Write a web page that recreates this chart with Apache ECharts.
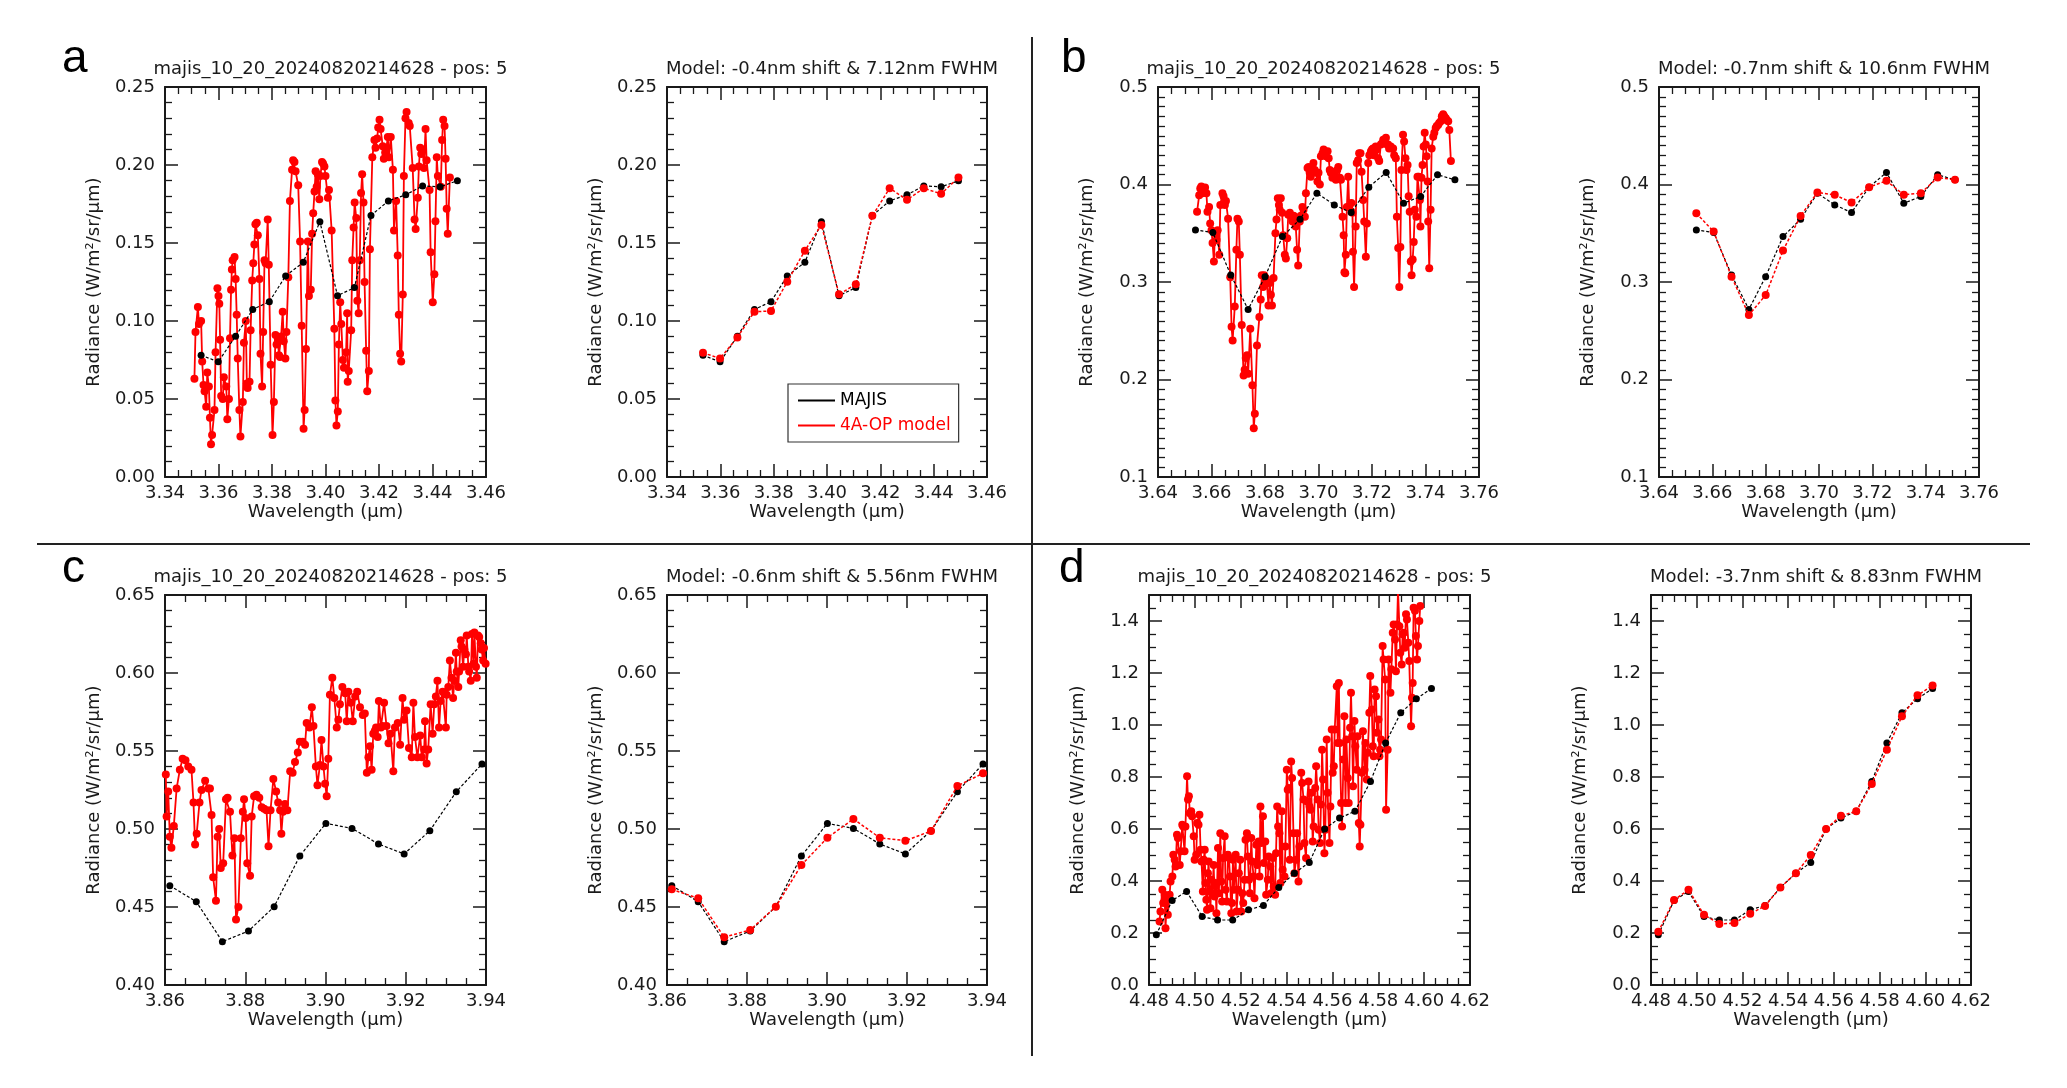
<!DOCTYPE html>
<html lang="en">
<head>
<meta charset="UTF-8">
<title>MAJIS vs 4A-OP model</title>
<script src="https://cdn.jsdelivr.net/npm/echarts@6.0.0/dist/echarts.min.js"></script>
<style>
    html, body { margin: 0; padding: 0; background: #fff; }
    #wrap { position: relative; width: 2067px; height: 1088px; }
    #axes, #marks { position: absolute; left: 0; top: 0; width: 2067px; height: 1088px; }
</style>
</head>
<body>
<div id="wrap">
    <div id="axes"></div>
    <div id="marks"></div>
</div>
<script>
// ---- MAJIS channels and 4A-OP model convolved to them ----
var wlA = [3.3535, 3.3599, 3.3664, 3.3728, 3.3790, 3.3851, 3.3917, 3.3979, 3.4045, 3.4108, 3.4170, 3.4235, 3.4300, 3.4363, 3.4428, 3.4493];
var majisA = [0.0781, 0.0738, 0.0903, 0.1074, 0.1124, 0.1289, 0.1376, 0.1637, 0.1162, 0.1214, 0.1676, 0.1770, 0.1809, 0.1866, 0.1860, 0.1899];
var modelA = [0.0796, 0.0760, 0.0895, 0.1060, 0.1064, 0.1252, 0.1451, 0.1616, 0.1171, 0.1235, 0.1674, 0.1851, 0.1777, 0.1851, 0.1815, 0.1920];

var wlB = [3.6540, 3.6605, 3.6672, 3.6737, 3.6800, 3.6865, 3.6931, 3.6994, 3.7059, 3.7122, 3.7188, 3.7253, 3.7318, 3.7382, 3.7445, 3.7510];
var majisB = [0.3534, 0.3507, 0.3072, 0.2719, 0.3055, 0.3466, 0.3644, 0.3911, 0.3791, 0.3712, 0.3973, 0.4123, 0.3808, 0.3877, 0.4100, 0.4048];
var modelB = [0.3705, 0.3517, 0.3055, 0.2661, 0.2866, 0.3322, 0.3678, 0.3918, 0.3894, 0.3815, 0.3973, 0.4038, 0.3894, 0.3911, 0.4072, 0.4048];

var wlC = [3.8612, 3.8678, 3.8743, 3.8808, 3.8872, 3.8936, 3.9001, 3.9066, 3.9132, 3.9196, 3.9260, 3.9326, 3.9390];
var majisC = [0.4637, 0.4534, 0.4278, 0.4346, 0.4502, 0.4827, 0.5036, 0.5004, 0.4904, 0.4840, 0.4989, 0.5239, 0.5417];
var modelC = [0.4613, 0.4556, 0.4306, 0.4353, 0.4502, 0.4769, 0.4944, 0.5064, 0.4944, 0.4925, 0.4987, 0.5276, 0.5357];

var wlD = [4.4832, 4.4901, 4.4964, 4.5032, 4.5099, 4.5165, 4.5234, 4.5299, 4.5366, 4.5434, 4.5499, 4.5566, 4.5631, 4.5698, 4.5766, 4.5832, 4.5898, 4.5966, 4.6032];
var majisD = [0.193, 0.325, 0.360, 0.263, 0.250, 0.250, 0.289, 0.306, 0.375, 0.430, 0.471, 0.600, 0.642, 0.668, 0.783, 0.931, 1.047, 1.101, 1.140];
var modelD = [0.205, 0.327, 0.366, 0.270, 0.235, 0.238, 0.274, 0.304, 0.375, 0.430, 0.500, 0.600, 0.651, 0.668, 0.773, 0.905, 1.034, 1.114, 1.152];

// ---- 4A-OP high resolution spectra [wavelength, radiance] ----
var specA = [[3.3510,0.063],[3.3514,0.093],[3.3523,0.109],[3.3527,0.098],[3.3535,0.100],[3.3539,0.074],[3.3544,0.059],[3.3548,0.055],[3.3554,0.045],[3.3558,0.067],[3.3564,0.058],[3.3568,0.038],[3.3572,0.021],[3.3576,0.027],[3.3585,0.043],[3.3589,0.080],[3.3596,0.121],[3.3600,0.116],[3.3603,0.111],[3.3606,0.088],[3.3610,0.052],[3.3616,0.050],[3.3620,0.064],[3.3629,0.058],[3.3633,0.037],[3.3639,0.050],[3.3643,0.089],[3.3647,0.120],[3.3650,0.133],[3.3653,0.139],[3.3660,0.141],[3.3664,0.127],[3.3668,0.104],[3.3672,0.076],[3.3678,0.043],[3.3682,0.026],[3.3691,0.048],[3.3695,0.086],[3.3702,0.100],[3.3706,0.060],[3.3709,0.057],[3.3716,0.061],[3.3720,0.094],[3.3726,0.126],[3.3730,0.137],[3.3734,0.149],[3.3738,0.162],[3.3743,0.163],[3.3747,0.155],[3.3753,0.127],[3.3757,0.079],[3.3763,0.058],[3.3767,0.093],[3.3772,0.139],[3.3776,0.137],[3.3784,0.165],[3.3788,0.136],[3.3795,0.072],[3.3802,0.027],[3.3807,0.048],[3.3813,0.091],[3.3817,0.085],[3.3822,0.088],[3.3826,0.078],[3.3830,0.077],[3.3834,0.090],[3.3840,0.106],[3.3844,0.087],[3.3850,0.076],[3.3854,0.093],[3.3861,0.128],[3.3867,0.177],[3.3875,0.197],[3.3879,0.203],[3.3884,0.202],[3.3888,0.196],[3.3898,0.187],[3.3905,0.151],[3.3911,0.097],[3.3918,0.031],[3.3922,0.043],[3.3927,0.082],[3.3934,0.151],[3.3938,0.116],[3.3945,0.120],[3.3950,0.156],[3.3954,0.169],[3.3959,0.183],[3.3963,0.196],[3.3967,0.186],[3.3971,0.194],[3.3977,0.178],[3.3981,0.193],[3.3987,0.202],[3.3991,0.201],[3.3996,0.199],[3.4000,0.193],[3.4009,0.179],[3.4013,0.184],[3.4023,0.158],[3.4033,0.095],[3.4037,0.049],[3.4041,0.033],[3.4046,0.042],[3.4050,0.085],[3.4055,0.112],[3.4059,0.098],[3.4065,0.075],[3.4069,0.070],[3.4077,0.080],[3.4081,0.105],[3.4083,0.061],[3.4087,0.068],[3.4096,0.094],[3.4100,0.139],[3.4105,0.160],[3.4109,0.176],[3.4115,0.166],[3.4119,0.113],[3.4124,0.105],[3.4128,0.139],[3.4133,0.182],[3.4137,0.194],[3.4142,0.176],[3.4146,0.125],[3.4152,0.081],[3.4156,0.055],[3.4162,0.068],[3.4166,0.146],[3.4175,0.205],[3.4183,0.216],[3.4187,0.211],[3.4193,0.217],[3.4197,0.224],[3.4202,0.229],[3.4206,0.223],[3.4214,0.212],[3.4218,0.204],[3.4223,0.208],[3.4227,0.210],[3.4233,0.218],[3.4237,0.205],[3.4244,0.218],[3.4252,0.197],[3.4256,0.158],[3.4264,0.177],[3.4270,0.142],[3.4274,0.104],[3.4279,0.079],[3.4283,0.074],[3.4289,0.117],[3.4293,0.193],[3.4299,0.230],[3.4303,0.234],[3.4311,0.227],[3.4315,0.225],[3.4326,0.198],[3.4333,0.165],[3.4337,0.159],[3.4345,0.179],[3.4349,0.199],[3.4354,0.211],[3.4358,0.207],[3.4364,0.210],[3.4368,0.198],[3.4374,0.223],[3.4378,0.203],[3.4389,0.184],[3.4393,0.144],[3.4401,0.112],[3.4407,0.130],[3.4411,0.164],[3.4416,0.205],[3.4420,0.193],[3.4431,0.186],[3.4436,0.216],[3.4440,0.229],[3.4445,0.225],[3.4449,0.204],[3.4453,0.172],[3.4457,0.156],[3.4465,0.192]];

var specB = [[3.6546,0.372],[3.6554,0.389],[3.6558,0.396],[3.6562,0.398],[3.6566,0.391],[3.6572,0.395],[3.6576,0.397],[3.6581,0.391],[3.6585,0.372],[3.6591,0.377],[3.6595,0.360],[3.6600,0.353],[3.6604,0.340],[3.6609,0.321],[3.6613,0.350],[3.6619,0.343],[3.6623,0.353],[3.6629,0.328],[3.6633,0.379],[3.6641,0.391],[3.6645,0.388],[3.6650,0.379],[3.6654,0.383],[3.6662,0.365],[3.6670,0.305],[3.6675,0.254],[3.6679,0.240],[3.6687,0.275],[3.6693,0.333],[3.6697,0.365],[3.6702,0.362],[3.6706,0.328],[3.6713,0.256],[3.6720,0.204],[3.6724,0.210],[3.6728,0.222],[3.6733,0.225],[3.6737,0.206],[3.6745,0.252],[3.6753,0.194],[3.6758,0.150],[3.6762,0.165],[3.6770,0.235],[3.6779,0.264],[3.6784,0.282],[3.6788,0.307],[3.6793,0.295],[3.6797,0.307],[3.6803,0.304],[3.6807,0.299],[3.6813,0.276],[3.6817,0.299],[3.6822,0.287],[3.6826,0.276],[3.6832,0.304],[3.6839,0.350],[3.6843,0.364],[3.6848,0.386],[3.6852,0.379],[3.6855,0.374],[3.6859,0.386],[3.6864,0.371],[3.6868,0.348],[3.6874,0.328],[3.6878,0.324],[3.6883,0.345],[3.6887,0.369],[3.6893,0.371],[3.6897,0.368],[3.6903,0.362],[3.6907,0.368],[3.6911,0.367],[3.6915,0.357],[3.6920,0.333],[3.6924,0.317],[3.6930,0.362],[3.6934,0.368],[3.6940,0.377],[3.6944,0.374],[3.6949,0.367],[3.6953,0.391],[3.6959,0.417],[3.6963,0.418],[3.6967,0.412],[3.6971,0.408],[3.6977,0.418],[3.6981,0.422],[3.6986,0.415],[3.6990,0.412],[3.6996,0.403],[3.7000,0.412],[3.7005,0.400],[3.7009,0.429],[3.7015,0.432],[3.7019,0.436],[3.7024,0.434],[3.7028,0.429],[3.7034,0.434],[3.7038,0.427],[3.7042,0.415],[3.7046,0.412],[3.7052,0.407],[3.7056,0.413],[3.7061,0.410],[3.7065,0.405],[3.7070,0.415],[3.7074,0.418],[3.7080,0.407],[3.7084,0.405],[3.7090,0.367],[3.7094,0.348],[3.7097,0.310],[3.7100,0.309],[3.7102,0.328],[3.7106,0.377],[3.7111,0.408],[3.7115,0.377],[3.7123,0.381],[3.7127,0.371],[3.7129,0.331],[3.7133,0.295],[3.7139,0.357],[3.7143,0.422],[3.7148,0.425],[3.7152,0.432],[3.7157,0.432],[3.7161,0.413],[3.7167,0.384],[3.7171,0.362],[3.7177,0.326],[3.7181,0.360],[3.7186,0.422],[3.7190,0.430],[3.7196,0.434],[3.7200,0.436],[3.7204,0.437],[3.7208,0.430],[3.7214,0.439],[3.7218,0.436],[3.7223,0.427],[3.7227,0.424],[3.7233,0.441],[3.7237,0.442],[3.7242,0.446],[3.7246,0.444],[3.7252,0.448],[3.7256,0.441],[3.7260,0.441],[3.7264,0.437],[3.7270,0.439],[3.7274,0.437],[3.7279,0.437],[3.7283,0.430],[3.7289,0.427],[3.7293,0.367],[3.7298,0.335],[3.7302,0.295],[3.7306,0.336],[3.7310,0.415],[3.7316,0.451],[3.7320,0.444],[3.7325,0.427],[3.7329,0.415],[3.7333,0.420],[3.7337,0.388],[3.7341,0.372],[3.7345,0.321],[3.7348,0.307],[3.7352,0.323],[3.7356,0.341],[3.7360,0.374],[3.7366,0.367],[3.7370,0.408],[3.7375,0.408],[3.7379,0.384],[3.7381,0.357],[3.7385,0.407],[3.7389,0.420],[3.7393,0.439],[3.7397,0.453],[3.7401,0.441],[3.7404,0.429],[3.7408,0.403],[3.7410,0.362],[3.7414,0.314],[3.7419,0.374],[3.7423,0.437],[3.7429,0.449],[3.7433,0.453],[3.7438,0.458],[3.7442,0.460],[3.7447,0.461],[3.7451,0.463],[3.7457,0.465],[3.7461,0.470],[3.7466,0.472],[3.7470,0.470],[3.7476,0.468],[3.7480,0.466],[3.7485,0.465],[3.7489,0.456],[3.7495,0.424]];

var specC = [[3.8602,0.535],[3.8604,0.508],[3.8608,0.524],[3.8612,0.495],[3.8616,0.488],[3.8622,0.502],[3.8629,0.526],[3.8637,0.538],[3.8644,0.545],[3.8651,0.544],[3.8658,0.540],[3.8666,0.538],[3.8671,0.517],[3.8675,0.490],[3.8679,0.497],[3.8686,0.517],[3.8691,0.525],[3.8700,0.531],[3.8708,0.526],[3.8712,0.526],[3.8716,0.509],[3.8720,0.469],[3.8727,0.454],[3.8731,0.495],[3.8735,0.500],[3.8739,0.475],[3.8745,0.478],[3.8752,0.519],[3.8756,0.520],[3.8762,0.511],[3.8768,0.483],[3.8773,0.494],[3.8777,0.442],[3.8783,0.450],[3.8789,0.494],[3.8794,0.511],[3.8797,0.519],[3.8801,0.507],[3.8805,0.478],[3.8812,0.470],[3.8816,0.508],[3.8822,0.521],[3.8828,0.522],[3.8835,0.520],[3.8841,0.514],[3.8847,0.513],[3.8853,0.512],[3.8858,0.489],[3.8863,0.512],[3.8870,0.532],[3.8877,0.524],[3.8882,0.517],[3.8887,0.512],[3.8890,0.497],[3.8894,0.511],[3.8899,0.516],[3.8905,0.512],[3.8912,0.537],[3.8918,0.536],[3.8924,0.543],[3.8931,0.549],[3.8936,0.556],[3.8943,0.556],[3.8949,0.554],[3.8953,0.568],[3.8960,0.565],[3.8966,0.578],[3.8970,0.566],[3.8976,0.540],[3.8980,0.528],[3.8986,0.541],[3.8990,0.557],[3.8995,0.540],[3.8999,0.529],[3.9003,0.521],[3.9007,0.545],[3.9011,0.586],[3.9017,0.597],[3.9022,0.584],[3.9028,0.565],[3.9032,0.570],[3.9036,0.580],[3.9042,0.591],[3.9049,0.587],[3.9053,0.569],[3.9057,0.588],[3.9063,0.581],[3.9068,0.569],[3.9074,0.585],[3.9079,0.588],[3.9086,0.578],[3.9093,0.573],[3.9098,0.574],[3.9103,0.536],[3.9107,0.546],[3.9111,0.553],[3.9115,0.538],[3.9119,0.561],[3.9123,0.563],[3.9126,0.565],[3.9130,0.559],[3.9133,0.582],[3.9138,0.565],[3.9142,0.566],[3.9146,0.581],[3.9152,0.566],[3.9157,0.555],[3.9162,0.561],[3.9169,0.537],[3.9173,0.565],[3.9180,0.568],[3.9186,0.554],[3.9192,0.584],[3.9196,0.570],[3.9202,0.576],[3.9208,0.552],[3.9215,0.546],[3.9219,0.581],[3.9223,0.559],[3.9229,0.546],[3.9236,0.560],[3.9240,0.546],[3.9246,0.551],[3.9248,0.569],[3.9252,0.542],[3.9256,0.551],[3.9262,0.580],[3.9267,0.561],[3.9271,0.580],[3.9275,0.585],[3.9279,0.595],[3.9283,0.565],[3.9287,0.582],[3.9292,0.588],[3.9296,0.587],[3.9300,0.565],[3.9302,0.586],[3.9306,0.591],[3.9310,0.608],[3.9314,0.597],[3.9318,0.584],[3.9321,0.595],[3.9325,0.613],[3.9327,0.601],[3.9331,0.591],[3.9333,0.601],[3.9337,0.621],[3.9339,0.617],[3.9343,0.604],[3.9346,0.615],[3.9350,0.612],[3.9352,0.624],[3.9356,0.604],[3.9358,0.601],[3.9362,0.595],[3.9365,0.625],[3.9369,0.606],[3.9371,0.626],[3.9375,0.604],[3.9377,0.597],[3.9380,0.624],[3.9383,0.623],[3.9387,0.619],[3.9389,0.615],[3.9393,0.608],[3.9395,0.616],[3.9399,0.606]];

var specD = [[4.4846,0.244],[4.4850,0.283],[4.4858,0.366],[4.4862,0.315],[4.4868,0.347],[4.4872,0.218],[4.4878,0.334],[4.4882,0.270],[4.4890,0.347],[4.4894,0.398],[4.4902,0.417],[4.4906,0.501],[4.4912,0.482],[4.4916,0.456],[4.4922,0.578],[4.4926,0.565],[4.4934,0.462],[4.4938,0.514],[4.4945,0.616],[4.4949,0.610],[4.4955,0.514],[4.4959,0.610],[4.4966,0.803],[4.4970,0.713],[4.4974,0.726],[4.4978,0.661],[4.4984,0.668],[4.4988,0.649],[4.4995,0.572],[4.4999,0.482],[4.5006,0.501],[4.5010,0.623],[4.5016,0.616],[4.5020,0.655],[4.5025,0.520],[4.5029,0.475],[4.5035,0.360],[4.5039,0.482],[4.5043,0.520],[4.5046,0.392],[4.5050,0.328],[4.5053,0.289],[4.5057,0.430],[4.5060,0.475],[4.5064,0.360],[4.5068,0.295],[4.5072,0.405],[4.5076,0.353],[4.5082,0.462],[4.5086,0.340],[4.5090,0.392],[4.5094,0.276],[4.5101,0.527],[4.5105,0.353],[4.5111,0.584],[4.5115,0.398],[4.5119,0.321],[4.5123,0.488],[4.5130,0.572],[4.5134,0.366],[4.5140,0.321],[4.5144,0.501],[4.5149,0.488],[4.5153,0.417],[4.5159,0.276],[4.5162,0.315],[4.5166,0.482],[4.5170,0.366],[4.5178,0.501],[4.5182,0.283],[4.5188,0.366],[4.5192,0.430],[4.5198,0.482],[4.5202,0.283],[4.5207,0.353],[4.5211,0.315],[4.5217,0.405],[4.5221,0.559],[4.5227,0.584],[4.5231,0.494],[4.5236,0.405],[4.5240,0.353],[4.5246,0.565],[4.5250,0.475],[4.5256,0.417],[4.5260,0.334],[4.5268,0.539],[4.5272,0.462],[4.5278,0.552],[4.5282,0.417],[4.5286,0.687],[4.5290,0.546],[4.5297,0.649],[4.5301,0.469],[4.5307,0.552],[4.5311,0.347],[4.5318,0.405],[4.5322,0.494],[4.5329,0.456],[4.5333,0.353],[4.5340,0.488],[4.5344,0.379],[4.5350,0.347],[4.5354,0.507],[4.5359,0.687],[4.5363,0.610],[4.5369,0.584],[4.5373,0.392],[4.5379,0.668],[4.5383,0.443],[4.5391,0.417],[4.5395,0.533],[4.5401,0.828],[4.5405,0.751],[4.5410,0.758],[4.5414,0.482],[4.5420,0.860],[4.5424,0.796],[4.5430,0.584],[4.5434,0.430],[4.5442,0.482],[4.5446,0.584],[4.5452,0.398],[4.5456,0.533],[4.5464,0.816],[4.5468,0.777],[4.5474,0.713],[4.5478,0.546],[4.5485,0.488],[4.5489,0.706],[4.5496,0.783],[4.5500,0.687],[4.5504,0.674],[4.5508,0.739],[4.5514,0.552],[4.5518,0.610],[4.5525,0.758],[4.5529,0.841],[4.5536,0.713],[4.5540,0.597],[4.5546,0.546],[4.5550,0.694],[4.5555,0.905],[4.5559,0.790],[4.5565,0.507],[4.5569,0.597],[4.5575,0.944],[4.5579,0.739],[4.5587,0.546],[4.5591,0.687],[4.5597,0.983],[4.5601,0.816],[4.5606,0.841],[4.5610,0.983],[4.5619,1.149],[4.5623,0.931],[4.5628,1.162],[4.5632,0.931],[4.5638,0.700],[4.5642,0.610],[4.5648,0.867],[4.5652,1.034],[4.5657,0.700],[4.5661,0.944],[4.5667,0.796],[4.5671,0.700],[4.5677,0.989],[4.5681,1.124],[4.5686,0.957],[4.5690,0.764],[4.5696,1.015],[4.5700,0.918],[4.5706,0.828],[4.5710,0.957],[4.5715,0.623],[4.5719,0.533],[4.5722,0.616],[4.5729,0.816],[4.5733,0.976],[4.5740,0.828],[4.5744,0.931],[4.5750,0.790],[4.5754,0.893],[4.5761,1.047],[4.5765,1.188],[4.5772,1.060],[4.5776,0.918],[4.5780,0.880],[4.5784,1.137],[4.5790,1.111],[4.5794,0.970],[4.5801,1.021],[4.5805,0.880],[4.5808,0.905],[4.5812,0.944],[4.5819,1.304],[4.5823,1.252],[4.5830,1.175],[4.5834,0.674],[4.5841,0.905],[4.5845,1.252],[4.5853,1.124],[4.5857,1.214],[4.5863,1.355],[4.5867,1.387],[4.5873,1.329],[4.5877,1.207],[4.5882,1.387],[4.5886,1.520],[4.5892,1.380],[4.5896,1.278],[4.5902,1.233],[4.5906,1.349],[4.5911,1.355],[4.5915,1.297],[4.5921,1.426],[4.5925,1.406],[4.5931,1.316],[4.5935,1.246],[4.5943,0.995],[4.5947,1.105],[4.5950,1.162],[4.5954,1.451],[4.5960,1.439],[4.5964,1.342],[4.5969,1.252],[4.5973,1.304],[4.5979,1.400],[4.5983,1.458]];

var obsTitle = 'majis_10_20_20240820214628 - pos: 5';
var modelTitles = ['Model: -0.4nm shift & 7.12nm FWHM', 'Model: -0.7nm shift & 10.6nm FWHM',
                   'Model: -0.6nm shift & 5.56nm FWHM', 'Model: -3.7nm shift & 8.83nm FWHM'];

var FONT = 'DejaVu Sans';
var INK = '#1a1a1a';
var RED = '#ff0000';

function pairs(xs, ys) {
    return xs.map(function (x, i) { return [x, ys[i]]; });
}

// two stacked instances: the frame/ticks/labels below, titles + marks above
var frame = {animation: false, grid: [], xAxis: [], yAxis: []};
var marks = {
    animation: false,
    title: [], grid: [], xAxis: [], yAxis: [], series: [],
    legend: {
        left: 788, top: 384, orient: 'vertical',
        data: [{name: 'MAJIS', textStyle: {color: '#000'}}, {name: '4A-OP model', textStyle: {color: RED}}],
        icon: 'rect', itemWidth: 37, itemHeight: 2, itemGap: 8, itemTextGap: 12,
        borderColor: '#333', borderWidth: 1.2, padding: [8, 8, 8, 10],
        textStyle: {fontFamily: FONT, fontSize: 17},
        selectedMode: false
    },
    graphic: [
        {type: 'line', shape: {x1: 1032, y1: 37, x2: 1032, y2: 1056}, style: {stroke: '#222', lineWidth: 2}},
        {type: 'line', shape: {x1: 37, y1: 544, x2: 2030, y2: 544}, style: {stroke: '#222', lineWidth: 2}},
        {type: 'text', left: 62, top: 36, style: {text: 'a', font: '46px "Liberation Sans"', fill: '#000'}},
        {type: 'text', left: 1061, top: 36, style: {text: 'b', font: '46px "Liberation Sans"', fill: '#000'}},
        {type: 'text', left: 62, top: 546, style: {text: 'c', font: '46px "Liberation Sans"', fill: '#000'}},
        {type: 'text', left: 1059, top: 546, style: {text: 'd', font: '46px "Liberation Sans"', fill: '#000'}}
    ]
};

function addPanel(p) {
    var g = frame.grid.length;
    var b = p.box;
    var gridBox = {left: b[0], top: b[1], width: b[2], height: b[3]};
    frame.grid.push(gridBox);
    marks.grid.push(gridBox);
    marks.title.push({
        text: p.title, left: b[0] + b[2] / 2, top: b[1] - 32, textAlign: 'center',
        textStyle: {fontFamily: FONT, fontSize: 18, fontWeight: 'normal', color: INK}
    });
    var line = {show: true, onZero: false, lineStyle: {color: INK, width: 2}};
    var tick = {show: true, inside: true, length: 13, lineStyle: {color: INK, width: 1.5}};
    var lab = {fontFamily: FONT, fontSize: 18, color: INK};
    function minor(n) {
        return {show: true, splitNumber: n, length: 7, lineStyle: {color: INK, width: 1.3}};
    }
    function ax(isX, pos, show) {
        var r = isX ? p.x : p.y;
        var ratio = r[1] / r[2];
        var a = {
            type: 'value', gridIndex: g, position: pos, min: r[0], max: r[1], interval: r[2],
            axisLine: line, axisTick: tick, splitLine: {show: false}, minorTick: minor(r[3]),
            axisLabel: show ? Object.assign({show: true, margin: isX ? 7 : 10}, lab) : {show: false}
        };
        if (show) {
            a.axisLabel.formatter = function (v) { return v.toFixed(r[4]); };
            if (Math.abs(ratio - Math.round(ratio)) > 1e-6) a.axisLabel.showMaxLabel = false;
            a.name = isX ? 'Wavelength (\u03bcm)' : 'Radiance (W/m\u00b2/sr/\u03bcm)';
            a.nameLocation = 'middle';
            a.nameGap = isX ? 26 : 62;
            a.nameTextStyle = lab;
        }
        return a;
    }
    function hidden(isX) {
        var r = isX ? p.x : p.y;
        return {type: 'value', gridIndex: g, show: false, min: r[0], max: r[1], interval: r[2]};
    }
    frame.xAxis.push(ax(true, 'bottom', true), ax(true, 'top', false));
    frame.yAxis.push(ax(false, 'left', true), ax(false, 'right', false));
    var xi = marks.xAxis.length, yi = marks.yAxis.length;
    marks.xAxis.push(hidden(true));
    marks.yAxis.push(hidden(false));

    var black = {
        type: 'line', name: 'MAJIS', xAxisIndex: xi, yAxisIndex: yi, data: p.majis,
        symbol: 'circle', symbolSize: 7, itemStyle: {color: '#000'},
        lineStyle: {color: '#000', width: 1.2, type: [3, 2]}, z: 3
    };
    var red;
    if (p.spec) {
        red = {
            type: 'line', name: '4A-OP model', xAxisIndex: xi, yAxisIndex: yi, data: p.spec,
            symbol: 'circle', symbolSize: 8, itemStyle: {color: RED},
            lineStyle: {color: RED, width: 1.8}, z: 2
        };
    } else {
        red = {
            type: 'line', name: '4A-OP model', xAxisIndex: xi, yAxisIndex: yi, data: p.model,
            symbol: 'circle', symbolSize: 8, itemStyle: {color: RED},
            lineStyle: {color: RED, width: 1.5, type: [3, 2]}, z: 4
        };
    }
    marks.series.push(red, black);
}

// [min, max, interval, minor splits, decimals]
var axA = {x: [3.34, 3.46, 0.02, 4, 2], y: [0, 0.25, 0.05, 5, 2]};
var axB = {x: [3.64, 3.76, 0.02, 4, 2], y: [0.1, 0.5, 0.1, 10, 1]};
var axC = {x: [3.86, 3.94, 0.02, 4, 2], y: [0.40, 0.65, 0.05, 5, 2]};
var axD = {x: [4.48, 4.62, 0.02, 4, 2], y: [0, 1.5, 0.2, 4, 1]};

addPanel({box: [165, 87, 321, 390], title: obsTitle, x: axA.x, y: axA.y, majis: pairs(wlA, majisA), spec: specA});
addPanel({box: [667, 87, 320, 390], title: modelTitles[0], x: axA.x, y: axA.y, majis: pairs(wlA, majisA), model: pairs(wlA, modelA)});
addPanel({box: [1158, 87, 321, 390], title: obsTitle, x: axB.x, y: axB.y, majis: pairs(wlB, majisB), spec: specB});
addPanel({box: [1659, 87, 320, 390], title: modelTitles[1], x: axB.x, y: axB.y, majis: pairs(wlB, majisB), model: pairs(wlB, modelB)});
addPanel({box: [165, 595, 321, 390], title: obsTitle, x: axC.x, y: axC.y, majis: pairs(wlC, majisC), spec: specC});
addPanel({box: [667, 595, 320, 390], title: modelTitles[2], x: axC.x, y: axC.y, majis: pairs(wlC, majisC), model: pairs(wlC, modelC)});
addPanel({box: [1149, 595, 321, 390], title: obsTitle, x: axD.x, y: axD.y, majis: pairs(wlD, majisD), spec: specD});
addPanel({box: [1651, 595, 320, 390], title: modelTitles[3], x: axD.x, y: axD.y, majis: pairs(wlD, majisD), model: pairs(wlD, modelD)});

echarts.init(document.getElementById('axes')).setOption(frame);
echarts.init(document.getElementById('marks')).setOption(marks);
</script>
</body>
</html>
